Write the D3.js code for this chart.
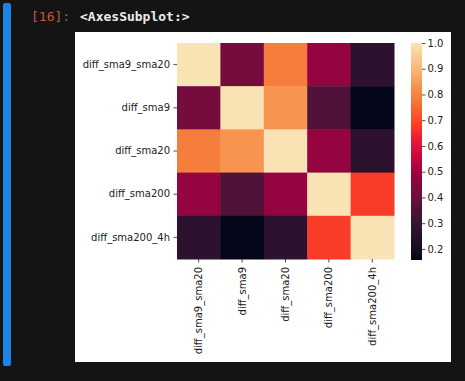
<!DOCTYPE html>
<html>
<head>
<meta charset="utf-8">
<script src="https://cdn.jsdelivr.net/npm/d3@7"></script>
<style>
  html, body { margin: 0; padding: 0; background: #141414; }
  svg { display: block; }
</style>
</head>
<body>
<svg id="chart" width="465" height="381"></svg>
<script>
// ---- data ----
const labels = ["diff_sma9_sma20", "diff_sma9", "diff_sma20", "diff_sma200", "diff_sma200_4h"];
const row0 = [1.00, 0.42, 0.79, 0.48, 0.27];
const row1 = [0.42, 1.00, 0.83, 0.35, 0.157];
const row2 = [0.79, 0.83, 1.00, 0.48, 0.27];
const row3 = [0.48, 0.35, 0.48, 1.00, 0.68];
const row4 = [0.27, 0.157, 0.27, 0.68, 1.00];
const matrix = [row0, row1, row2, row3, row4];
const colorbarTicks = [0.2, 0.3, 0.4, 0.5, 0.6, 0.7, 0.8, 0.9, 1.0];
const vmin = 0.157, vmax = 1.0;

// colormap stops (rocket-like, as seen in the picture)
const cmapValues = [0.157, 0.2, 0.3, 0.4, 0.5, 0.6, 0.65, 0.7, 0.8, 0.9, 1.0];
const cmapColors = ["#06061b", "#150c23", "#361532", "#6b0f3e", "#a00040", "#e0103e", "#f5282c", "#fb4a26", "#f5843f", "#f8b878", "#f9e3b5"];

const svg = d3.select("#chart");

// notebook chrome
svg.append("rect").attr("x", 3).attr("y", 3).attr("width", 8).attr("height", 363)
  .attr("rx", 2).attr("fill", "#1a84e4");
svg.append("text").attr("x", 31).attr("y", 21)
  .attr("font-family", "DejaVu Sans Mono").attr("font-size", 13)
  .attr("fill", "#c25a3c").text("[16]:");
svg.append("text").attr("x", 80).attr("y", 21)
  .attr("font-family", "DejaVu Sans Mono").attr("font-size", 13).attr("font-weight", "bold")
  .attr("fill", "#ececec").text("<AxesSubplot:>");

// figure background
svg.append("rect").attr("x", 75).attr("y", 32).attr("width", 376).attr("height", 330).attr("fill", "#ffffff");

const color = d3.scaleLinear().domain(cmapValues).range(cmapColors).interpolate(d3.interpolateRgb).clamp(true);

const x = d3.scaleBand().domain(labels).range([177, 394]);
const y = d3.scaleBand().domain(labels).range([43, 259]);

const cells = [];
matrix.forEach((row, i) => row.forEach((v, j) => cells.push({ r: labels[i], c: labels[j], v })));

svg.append("g").selectAll("rect").data(cells).join("rect")
  .attr("x", d => x(d.c)).attr("y", d => y(d.r))
  .attr("width", x.bandwidth() + 0.5).attr("height", y.bandwidth() + 0.5)
  .attr("fill", d => color(d.v));

const fontFam = "DejaVu Sans";
// y axis
const yAxis = svg.append("g").attr("transform", "translate(177,0)")
  .call(d3.axisLeft(y).tickSize(3.5).tickPadding(3.5));
// x axis
const xAxis = svg.append("g").attr("transform", "translate(0,259)")
  .call(d3.axisBottom(x).tickSize(3.5).tickPadding(3.5));
xAxis.selectAll("text")
  .attr("transform", d => "rotate(-90)")
  .attr("x", -8).attr("y", 0).attr("dy", "0.35em")
  .style("text-anchor", "end");

[yAxis, xAxis].forEach(a => {
  a.select(".domain").remove();
  a.selectAll(".tick line").attr("stroke", "#222").attr("stroke-width", 0.8);
  a.selectAll("text").attr("font-family", fontFam).attr("font-size", 10).attr("fill", "#222");
});

// colorbar
const cbX = 411, cbW = 11;
const cbScale = d3.scaleLinear().domain([vmin, vmax]).range([260, 43]);
const defs = svg.append("defs");
const grad = defs.append("linearGradient").attr("id", "cbgrad")
  .attr("x1", 0).attr("y1", 1).attr("x2", 0).attr("y2", 0);
d3.range(0, 1.0001, 0.02).forEach(t => {
  const v = vmin + t * (vmax - vmin);
  grad.append("stop").attr("offset", t).attr("stop-color", color(v));
});
svg.append("rect").attr("x", cbX).attr("y", cbScale(vmax)).attr("width", cbW)
  .attr("height", cbScale(vmin) - cbScale(vmax)).attr("fill", "url(#cbgrad)");
const cbAxis = svg.append("g").attr("transform", `translate(${cbX + cbW},0)`)
  .call(d3.axisRight(cbScale).tickValues(colorbarTicks).tickFormat(d3.format(".1f")).tickSize(3.5).tickPadding(2));
cbAxis.select(".domain").remove();
cbAxis.selectAll(".tick line").attr("stroke", "#222").attr("stroke-width", 0.8);
cbAxis.selectAll("text").attr("font-family", fontFam).attr("font-size", 10).attr("fill", "#222");
</script>
</body>
</html>
